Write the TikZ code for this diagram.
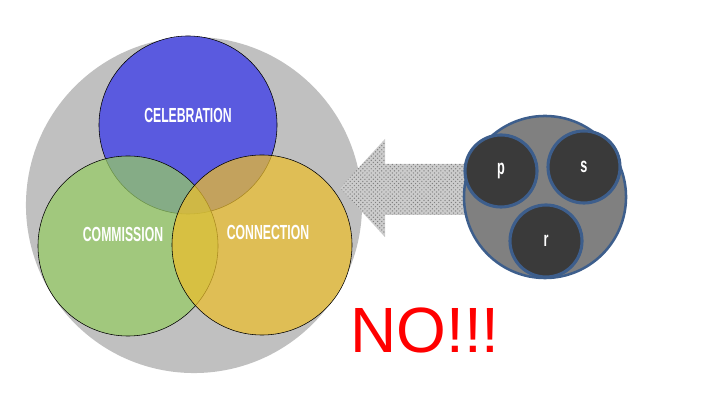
\documentclass[tikz,border=0pt]{standalone}
\usepackage{fontspec}
\setmainfont{Liberation Sans}
\newfontfamily\narrowfont[FakeStretch=0.6]{Liberation Sans}
\usetikzlibrary{positioning}
\usetikzlibrary{calc}
\usetikzlibrary{patterns}
\definecolor{bgray}{RGB}{192,192,192}
\definecolor{cblue}{RGB}{52,52,236}
\definecolor{cgreen}{RGB}{150,204,100}
\definecolor{cyellow}{RGB}{236,190,44}
\definecolor{rimblue}{RGB}{61,94,140}
\definecolor{beadfill}{RGB}{58,58,58}
\definecolor{ringfill}{RGB}{128,128,128}

\begin{document}
\begin{tikzpicture}[x=0.025cm,y=0.025cm,
	set/.style={circle,draw=black,thin,fill opacity=0.72,inner sep=0,minimum size=4.5cm},
	word/.style={text=white,font=\narrowfont\bfseries\fontsize{14.5}{15}\selectfont},
	bead/.style={circle,draw=rimblue,line width=2.2pt,fill=beadfill,inner sep=0,minimum size=1.8cm,
		text=white,font=\narrowfont\bfseries\fontsize{15}{15}\selectfont}]
	\useasboundingbox (0,0) rectangle (720,405);
	\node[circle,fill=bgray,minimum size=8.4cm,inner sep=0] (church) at (194,200) {};

	% arrow from the group to the church
	\coordinate (tip) at (340,217);
	\path[fill=gray!40] (tip) -- ++(45,49) -- ++(0,-25) -- ++(85,0) -- ++(0,-51) -- ++(-85,0) -- ++(0,-22) -- cycle;
	\path[pattern=crosshatch dots,pattern color=black!50] (tip) -- ++(45,49) -- ++(0,-25) -- ++(85,0) -- ++(0,-51) -- ++(-85,0) -- ++(0,-22) -- cycle;

	\node[set,fill=cblue,minimum size=4.45cm] (celebration) at (188,280) {};
	\node[set,fill=cgreen] (commission) at (128,159) {};
	\node[set,fill=cyellow] (connection) at (262,160) {};
	\node[word] at ($(celebration.center)+(0,10)$) {CELEBRATION};
	\node[word] at ($(commission.center)+(-5,12)$) {COMMISSION};
	\node[word] at ($(connection.center)+(6,13)$) {CONNECTION};

	\node[circle,draw=rimblue,line width=1.8pt,fill=ringfill,minimum size=4.05cm,inner sep=0] (group) at (545,208) {};
	\node[bead] (p) at (501,234) {p};
	\node[bead] (s) at (584,238) {s};
	\node[bead] (r) at (546,164) {r};

	\node[text=red,font=\fontsize{45.5}{46}\selectfont] (no) at (425,75) {NO!!!};
  \end{tikzpicture}
\end{document}
